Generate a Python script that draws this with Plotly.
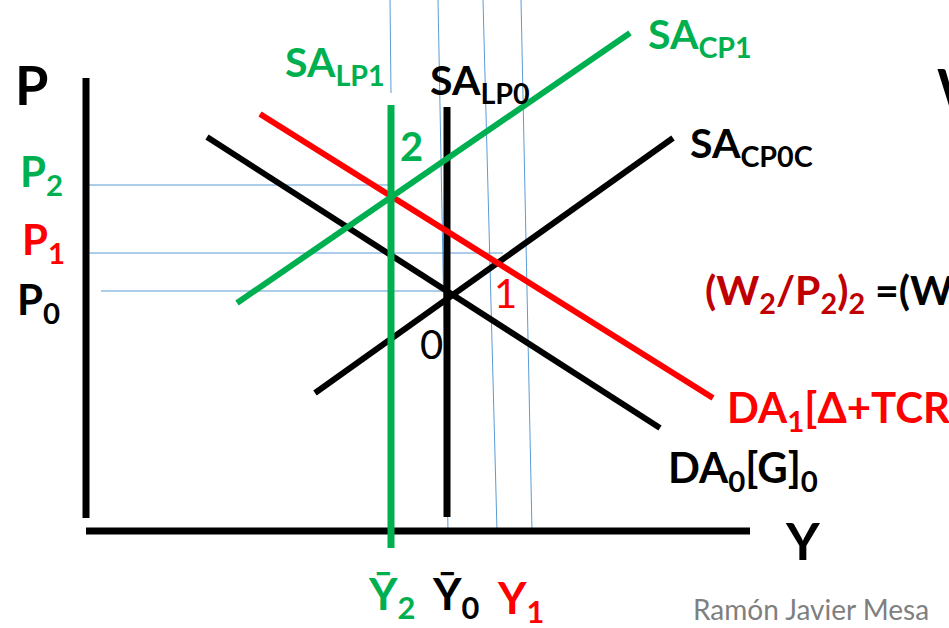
import plotly.graph_objects as go

# Diagram geometry (canvas units: x to the right, y downward)
axis_y = [[86, 78], [86, 518]]
axis_x = [[86, 531], [750, 531]]
sa_lp0 = [[447, 107], [447, 517]]
sa_lp1 = [[391, 105], [391, 548]]
sa_cp1 = [[237, 303], [630, 33]]
sa_cp0c = [[315, 393], [673, 138]]
da0 = [[207, 137], [660, 428]]
da1 = [[260, 114], [713, 398]]

guide_v = [
    [[390, 0], [391, 93]],
    [[438, 0], [448, 531]],
    [[483, 0], [497, 531]],
    [[521, 0], [532, 531]],
]
guide_h = [
    [[86, 185], [392, 185]],
    [[86, 253], [503, 253]],
    [[101, 291], [446, 291]],
]

BLACK = "#000000"
GREEN = "#00B050"
RED = "#FF0000"
DARKRED = "#C00000"
BLUE = "#5B9BD5"
FONT = "Lato"

fig = go.Figure()

def seg(pts, color, width):
    fig.add_trace(go.Scatter(
        x=[p[0] for p in pts], y=[p[1] for p in pts], mode="lines",
        line=dict(color=color, width=width), hoverinfo="skip", showlegend=False))

for g in guide_v + guide_h:
    seg(g, BLUE, 1)
seg(axis_y, BLACK, 7)
seg(axis_x, BLACK, 7)
seg(sa_lp0, BLACK, 7)
seg(sa_cp0c, BLACK, 6)
seg(da0, BLACK, 6)
seg(da1, RED, 6)
seg(sa_cp1, GREEN, 6)
seg(sa_lp1, GREEN, 7)

labels = [
    # text, x, y, color, size
    ("<b>P</b>", 13, 84, BLACK, 54),
    ("<b>P<sub>2</sub></b>", 18, 174, GREEN, 42),
    ("<b>P<sub>1</sub></b>", 20, 242, RED, 42),
    ("<b>P<sub>0</sub></b>", 15, 302, BLACK, 42),
    ("<b>SA<sub>LP1</sub></b>", 283, 64, GREEN, 41),
    ("<b>SA<sub>LP0</sub></b>", 428, 82, BLACK, 41),
    ("<b>SA<sub>CP1</sub></b>", 646, 36, GREEN, 41),
    ("<b>SA<sub>CP0C</sub></b>", 688, 145, BLACK, 41),
    ("<b>2</b>", 398, 146, GREEN, 40),
    ("0", 418, 344, BLACK, 40),
    ("1", 492, 293, RED, 40),
    ("<b><span style='color:#C00000'>(W<sub>2</sub>/P<sub>2</sub>)<sub>2</sub></span> =(W<sub>1</sub>/P<sub>1</sub>)</b>", 703, 292, BLACK, 41),
    ("<b>DA<sub>1</sub>[Δ+TCR]</b>", 725, 410, RED, 42),
    ("<b>DA<sub>0</sub>[G]<sub>0</sub></b>", 666, 470, BLACK, 42),
    ("<b>Y</b>", 783, 540, BLACK, 52),
    ("<b>Ȳ<sub>2</sub></b>", 366, 596, GREEN, 44),
    ("<b>Ȳ<sub>0</sub></b>", 430, 596, BLACK, 44),
    ("<b>Y<sub>1</sub></b>", 495, 600, RED, 44),
    ("<b>W</b>", 935, 86, BLACK, 52),
    ("Ramón Javier Mesa", 691, 609, "#7F7F7F", 28),
]
for t, x, y, c, s in labels:
    fig.add_annotation(x=x, y=y, xref="x", yref="y", text=t, showarrow=False,
                       xanchor="left", yanchor="middle",
                       font=dict(family=FONT, size=s, color=c))

fig.update_layout(
    width=949, height=628, margin=dict(l=0, r=0, t=0, b=0),
    paper_bgcolor="white", plot_bgcolor="white",
    xaxis=dict(range=[0, 949], visible=False, fixedrange=True),
    yaxis=dict(range=[628, 0], visible=False, fixedrange=True),
)
fig.write_html("out.html", config={"displayModeBar": False},
               post_script="document.body.style.margin='0';document.body.style.overflow='hidden';")
